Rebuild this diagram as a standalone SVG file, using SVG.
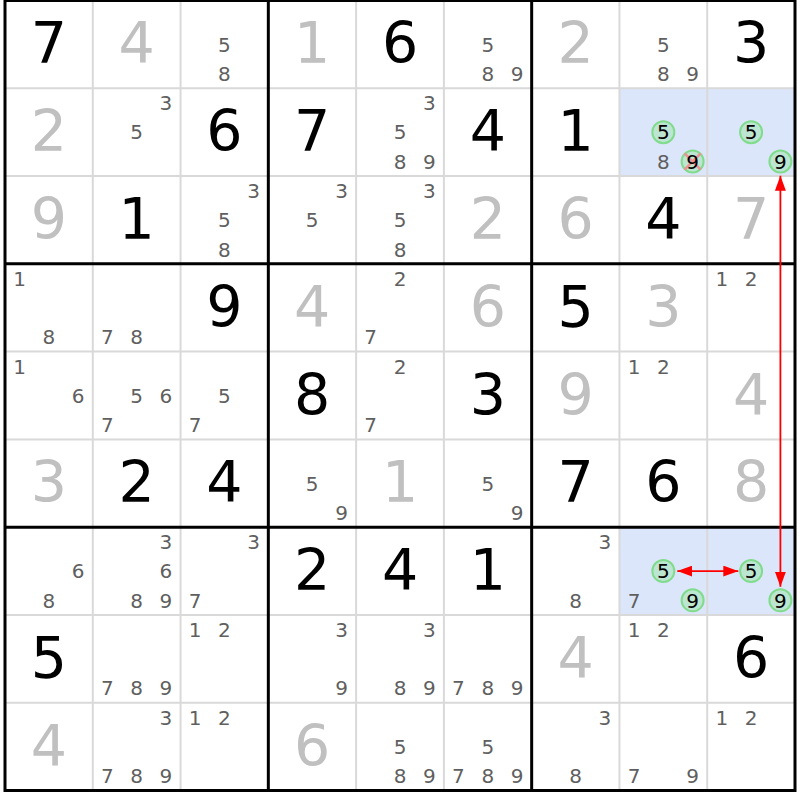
<svg xmlns="http://www.w3.org/2000/svg" width="800" height="800" viewBox="0 0 800 800">
<style>
.g{font-family:"DejaVu Sans",sans-serif;font-size:57px;text-anchor:middle;fill:#000}
.s{fill:#c0c0c0}
.c{font-family:"DejaVu Sans",sans-serif;font-size:20px;text-anchor:middle;fill:#5f5f5f}
.k{fill:#000}
.hl{fill:#dce6fa}
.ring{fill:#bde6d2;stroke:#80dc8c;stroke-width:2}
.x{stroke:#f09090;stroke-width:2.5;stroke-linecap:round}
.thin{stroke:#d9d9d9;stroke-width:2}
.thick{stroke:#000;stroke-width:3}
.arr{stroke:#ff0000;stroke-width:1.8;fill:none}
</style>
<defs>
<marker id="ah" viewBox="0 0 15 11" refX="15" refY="5.5" markerWidth="15" markerHeight="11" markerUnits="userSpaceOnUse" orient="auto-start-reverse">
<path d="M0,0 L15,5.5 L0,11 z" fill="#ff0000"/>
</marker>
</defs>
<rect x="0" y="0" width="800" height="800" fill="#fff"/>

<!-- row 0 -->
<g id="r0c0" transform="translate(48.89,44.39)"><text class="g" x="0" y="19">7</text></g>
<g id="r0c1" transform="translate(136.67,44.39)"><text class="g s" x="0" y="19">4</text></g>
<g id="r0c2" transform="translate(224.44,44.39)"><text class="c" x="0" y="7.3">5</text><text class="c" x="0" y="36.6">8</text></g>
<g id="r0c3" transform="translate(312.22,44.39)"><text class="g s" x="0" y="19">1</text></g>
<g id="r0c4" transform="translate(400,44.39)"><text class="g" x="0" y="19">6</text></g>
<g id="r0c5" transform="translate(487.78,44.39)"><text class="c" x="0" y="7.3">5</text><text class="c" x="0" y="36.6">8</text><text class="c" x="29.3" y="36.6">9</text></g>
<g id="r0c6" transform="translate(575.56,44.39)"><text class="g s" x="0" y="19">2</text></g>
<g id="r0c7" transform="translate(663.33,44.39)"><text class="c" x="0" y="7.3">5</text><text class="c" x="0" y="36.6">8</text><text class="c" x="29.3" y="36.6">9</text></g>
<g id="r0c8" transform="translate(751.11,44.39)"><text class="g" x="0" y="19">3</text></g>

<!-- row 1 -->
<g id="r1c0" transform="translate(48.89,132.17)"><text class="g s" x="0" y="19">2</text></g>
<g id="r1c1" transform="translate(136.67,132.17)"><text class="c" x="29.3" y="-22">3</text><text class="c" x="0" y="7.3">5</text></g>
<g id="r1c2" transform="translate(224.44,132.17)"><text class="g" x="0" y="19">6</text></g>
<g id="r1c3" transform="translate(312.22,132.17)"><text class="g" x="0" y="19">7</text></g>
<g id="r1c4" transform="translate(400,132.17)"><text class="c" x="29.3" y="-22">3</text><text class="c" x="0" y="7.3">5</text><text class="c" x="0" y="36.6">8</text><text class="c" x="29.3" y="36.6">9</text></g>
<g id="r1c5" transform="translate(487.78,132.17)"><text class="g" x="0" y="19">4</text></g>
<g id="r1c6" transform="translate(575.56,132.17)"><text class="g" x="0" y="19">1</text></g>
<g id="r1c7" transform="translate(663.33,132.17)"><rect class="hl" x="-43.89" y="-43.89" width="87.78" height="87.78"/><circle class="ring" cx="0" cy="0" r="11"/><circle class="ring" cx="29.3" cy="29.3" r="11"/><line class="x" x1="22" y1="22" x2="36.6" y2="36.6"/><line class="x" x1="36.6" y1="22" x2="22" y2="36.6"/><text class="c k" x="0" y="7.3">5</text><text class="c" x="0" y="36.6">8</text><text class="c k" x="29.3" y="36.6">9</text></g>
<g id="r1c8" transform="translate(751.11,132.17)"><rect class="hl" x="-43.89" y="-43.89" width="87.78" height="87.78"/><circle class="ring" cx="0" cy="0" r="11"/><circle class="ring" cx="29.3" cy="29.3" r="11"/><text class="c k" x="0" y="7.3">5</text><text class="c k" x="29.3" y="36.6">9</text></g>

<!-- row 2 -->
<g id="r2c0" transform="translate(48.89,219.94)"><text class="g s" x="0" y="19">9</text></g>
<g id="r2c1" transform="translate(136.67,219.94)"><text class="g" x="0" y="19">1</text></g>
<g id="r2c2" transform="translate(224.44,219.94)"><text class="c" x="29.3" y="-22">3</text><text class="c" x="0" y="7.3">5</text><text class="c" x="0" y="36.6">8</text></g>
<g id="r2c3" transform="translate(312.22,219.94)"><text class="c" x="29.3" y="-22">3</text><text class="c" x="0" y="7.3">5</text></g>
<g id="r2c4" transform="translate(400,219.94)"><text class="c" x="29.3" y="-22">3</text><text class="c" x="0" y="7.3">5</text><text class="c" x="0" y="36.6">8</text></g>
<g id="r2c5" transform="translate(487.78,219.94)"><text class="g s" x="0" y="19">2</text></g>
<g id="r2c6" transform="translate(575.56,219.94)"><text class="g s" x="0" y="19">6</text></g>
<g id="r2c7" transform="translate(663.33,219.94)"><text class="g" x="0" y="19">4</text></g>
<g id="r2c8" transform="translate(751.11,219.94)"><text class="g s" x="0" y="19">7</text></g>

<!-- row 3 -->
<g id="r3c0" transform="translate(48.89,307.72)"><text class="c" x="-29.3" y="-22">1</text><text class="c" x="0" y="36.6">8</text></g>
<g id="r3c1" transform="translate(136.67,307.72)"><text class="c" x="-29.3" y="36.6">7</text><text class="c" x="0" y="36.6">8</text></g>
<g id="r3c2" transform="translate(224.44,307.72)"><text class="g" x="0" y="19">9</text></g>
<g id="r3c3" transform="translate(312.22,307.72)"><text class="g s" x="0" y="19">4</text></g>
<g id="r3c4" transform="translate(400,307.72)"><text class="c" x="0" y="-22">2</text><text class="c" x="-29.3" y="36.6">7</text></g>
<g id="r3c5" transform="translate(487.78,307.72)"><text class="g s" x="0" y="19">6</text></g>
<g id="r3c6" transform="translate(575.56,307.72)"><text class="g" x="0" y="19">5</text></g>
<g id="r3c7" transform="translate(663.33,307.72)"><text class="g s" x="0" y="19">3</text></g>
<g id="r3c8" transform="translate(751.11,307.72)"><text class="c" x="-29.3" y="-22">1</text><text class="c" x="0" y="-22">2</text></g>

<!-- row 4 -->
<g id="r4c0" transform="translate(48.89,395.5)"><text class="c" x="-29.3" y="-22">1</text><text class="c" x="29.3" y="7.3">6</text></g>
<g id="r4c1" transform="translate(136.67,395.5)"><text class="c" x="0" y="7.3">5</text><text class="c" x="29.3" y="7.3">6</text><text class="c" x="-29.3" y="36.6">7</text></g>
<g id="r4c2" transform="translate(224.44,395.5)"><text class="c" x="0" y="7.3">5</text><text class="c" x="-29.3" y="36.6">7</text></g>
<g id="r4c3" transform="translate(312.22,395.5)"><text class="g" x="0" y="19">8</text></g>
<g id="r4c4" transform="translate(400,395.5)"><text class="c" x="0" y="-22">2</text><text class="c" x="-29.3" y="36.6">7</text></g>
<g id="r4c5" transform="translate(487.78,395.5)"><text class="g" x="0" y="19">3</text></g>
<g id="r4c6" transform="translate(575.56,395.5)"><text class="g s" x="0" y="19">9</text></g>
<g id="r4c7" transform="translate(663.33,395.5)"><text class="c" x="-29.3" y="-22">1</text><text class="c" x="0" y="-22">2</text></g>
<g id="r4c8" transform="translate(751.11,395.5)"><text class="g s" x="0" y="19">4</text></g>

<!-- row 5 -->
<g id="r5c0" transform="translate(48.89,483.28)"><text class="g s" x="0" y="19">3</text></g>
<g id="r5c1" transform="translate(136.67,483.28)"><text class="g" x="0" y="19">2</text></g>
<g id="r5c2" transform="translate(224.44,483.28)"><text class="g" x="0" y="19">4</text></g>
<g id="r5c3" transform="translate(312.22,483.28)"><text class="c" x="0" y="7.3">5</text><text class="c" x="29.3" y="36.6">9</text></g>
<g id="r5c4" transform="translate(400,483.28)"><text class="g s" x="0" y="19">1</text></g>
<g id="r5c5" transform="translate(487.78,483.28)"><text class="c" x="0" y="7.3">5</text><text class="c" x="29.3" y="36.6">9</text></g>
<g id="r5c6" transform="translate(575.56,483.28)"><text class="g" x="0" y="19">7</text></g>
<g id="r5c7" transform="translate(663.33,483.28)"><text class="g" x="0" y="19">6</text></g>
<g id="r5c8" transform="translate(751.11,483.28)"><text class="g s" x="0" y="19">8</text></g>

<!-- row 6 -->
<g id="r6c0" transform="translate(48.89,571.06)"><text class="c" x="29.3" y="7.3">6</text><text class="c" x="0" y="36.6">8</text></g>
<g id="r6c1" transform="translate(136.67,571.06)"><text class="c" x="29.3" y="-22">3</text><text class="c" x="29.3" y="7.3">6</text><text class="c" x="0" y="36.6">8</text><text class="c" x="29.3" y="36.6">9</text></g>
<g id="r6c2" transform="translate(224.44,571.06)"><text class="c" x="29.3" y="-22">3</text><text class="c" x="-29.3" y="36.6">7</text></g>
<g id="r6c3" transform="translate(312.22,571.06)"><text class="g" x="0" y="19">2</text></g>
<g id="r6c4" transform="translate(400,571.06)"><text class="g" x="0" y="19">4</text></g>
<g id="r6c5" transform="translate(487.78,571.06)"><text class="g" x="0" y="19">1</text></g>
<g id="r6c6" transform="translate(575.56,571.06)"><text class="c" x="29.3" y="-22">3</text><text class="c" x="0" y="36.6">8</text></g>
<g id="r6c7" transform="translate(663.33,571.06)"><rect class="hl" x="-43.89" y="-43.89" width="87.78" height="87.78"/><circle class="ring" cx="0" cy="0" r="11"/><circle class="ring" cx="29.3" cy="29.3" r="11"/><text class="c k" x="0" y="7.3">5</text><text class="c" x="-29.3" y="36.6">7</text><text class="c k" x="29.3" y="36.6">9</text></g>
<g id="r6c8" transform="translate(751.11,571.06)"><rect class="hl" x="-43.89" y="-43.89" width="87.78" height="87.78"/><circle class="ring" cx="0" cy="0" r="11"/><circle class="ring" cx="29.3" cy="29.3" r="11"/><text class="c k" x="0" y="7.3">5</text><text class="c k" x="29.3" y="36.6">9</text></g>

<!-- row 7 -->
<g id="r7c0" transform="translate(48.89,658.83)"><text class="g" x="0" y="19">5</text></g>
<g id="r7c1" transform="translate(136.67,658.83)"><text class="c" x="-29.3" y="36.6">7</text><text class="c" x="0" y="36.6">8</text><text class="c" x="29.3" y="36.6">9</text></g>
<g id="r7c2" transform="translate(224.44,658.83)"><text class="c" x="-29.3" y="-22">1</text><text class="c" x="0" y="-22">2</text></g>
<g id="r7c3" transform="translate(312.22,658.83)"><text class="c" x="29.3" y="-22">3</text><text class="c" x="29.3" y="36.6">9</text></g>
<g id="r7c4" transform="translate(400,658.83)"><text class="c" x="29.3" y="-22">3</text><text class="c" x="0" y="36.6">8</text><text class="c" x="29.3" y="36.6">9</text></g>
<g id="r7c5" transform="translate(487.78,658.83)"><text class="c" x="-29.3" y="36.6">7</text><text class="c" x="0" y="36.6">8</text><text class="c" x="29.3" y="36.6">9</text></g>
<g id="r7c6" transform="translate(575.56,658.83)"><text class="g s" x="0" y="19">4</text></g>
<g id="r7c7" transform="translate(663.33,658.83)"><text class="c" x="-29.3" y="-22">1</text><text class="c" x="0" y="-22">2</text></g>
<g id="r7c8" transform="translate(751.11,658.83)"><text class="g" x="0" y="19">6</text></g>

<!-- row 8 -->
<g id="r8c0" transform="translate(48.89,746.61)"><text class="g s" x="0" y="19">4</text></g>
<g id="r8c1" transform="translate(136.67,746.61)"><text class="c" x="29.3" y="-22">3</text><text class="c" x="-29.3" y="36.6">7</text><text class="c" x="0" y="36.6">8</text><text class="c" x="29.3" y="36.6">9</text></g>
<g id="r8c2" transform="translate(224.44,746.61)"><text class="c" x="-29.3" y="-22">1</text><text class="c" x="0" y="-22">2</text></g>
<g id="r8c3" transform="translate(312.22,746.61)"><text class="g s" x="0" y="19">6</text></g>
<g id="r8c4" transform="translate(400,746.61)"><text class="c" x="0" y="7.3">5</text><text class="c" x="0" y="36.6">8</text><text class="c" x="29.3" y="36.6">9</text></g>
<g id="r8c5" transform="translate(487.78,746.61)"><text class="c" x="0" y="7.3">5</text><text class="c" x="-29.3" y="36.6">7</text><text class="c" x="0" y="36.6">8</text><text class="c" x="29.3" y="36.6">9</text></g>
<g id="r8c6" transform="translate(575.56,746.61)"><text class="c" x="29.3" y="-22">3</text><text class="c" x="0" y="36.6">8</text></g>
<g id="r8c7" transform="translate(663.33,746.61)"><text class="c" x="-29.3" y="36.6">7</text><text class="c" x="29.3" y="36.6">9</text></g>
<g id="r8c8" transform="translate(751.11,746.61)"><text class="c" x="-29.3" y="-22">1</text><text class="c" x="0" y="-22">2</text></g>

<g id="grid">
<line class="thin" x1="92.78" y1="0.5" x2="92.78" y2="790.5"/>
<line class="thin" x1="180.56" y1="0.5" x2="180.56" y2="790.5"/>
<line class="thin" x1="356.11" y1="0.5" x2="356.11" y2="790.5"/>
<line class="thin" x1="443.89" y1="0.5" x2="443.89" y2="790.5"/>
<line class="thin" x1="619.44" y1="0.5" x2="619.44" y2="790.5"/>
<line class="thin" x1="707.22" y1="0.5" x2="707.22" y2="790.5"/>
<line class="thin" x1="5" y1="88.28" x2="795" y2="88.28"/>
<line class="thin" x1="5" y1="176.06" x2="795" y2="176.06"/>
<line class="thin" x1="5" y1="351.61" x2="795" y2="351.61"/>
<line class="thin" x1="5" y1="439.39" x2="795" y2="439.39"/>
<line class="thin" x1="5" y1="614.94" x2="795" y2="614.94"/>
<line class="thin" x1="5" y1="702.72" x2="795" y2="702.72"/>
<line class="thick" x1="268.33" y1="0.5" x2="268.33" y2="790.5"/>
<line class="thick" x1="531.67" y1="0.5" x2="531.67" y2="790.5"/>
<line class="thick" x1="5" y1="263.83" x2="795" y2="263.83"/>
<line class="thick" x1="5" y1="527.17" x2="795" y2="527.17"/>
<rect x="5" y="0.5" width="790" height="790" fill="none" stroke="#000" stroke-width="3"/>
</g>

<g id="connectors">
<line class="arr" x1="780.4" y1="175.7" x2="780.4" y2="586.7" marker-start="url(#ah)" marker-end="url(#ah)"/>
<line class="arr" x1="677.3" y1="571.1" x2="738.3" y2="571.1" marker-start="url(#ah)" marker-end="url(#ah)"/>
</g>
</svg>
